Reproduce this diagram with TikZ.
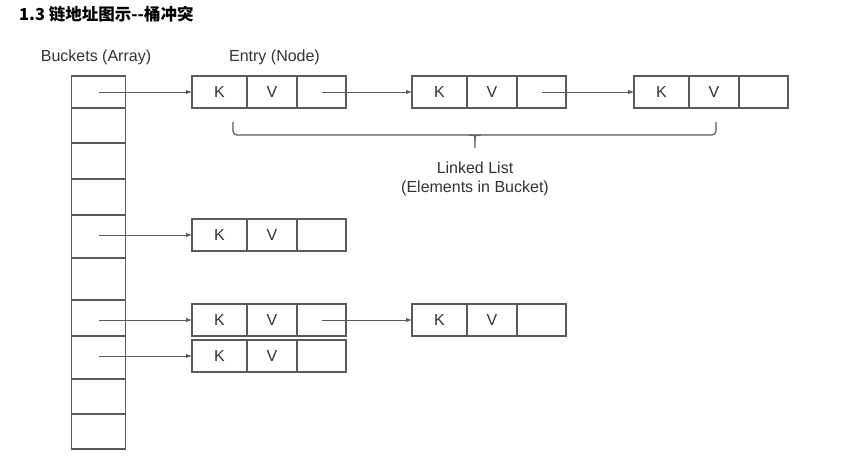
\documentclass[tikz,border=0pt]{standalone}
\usepackage{fontspec}
\setmainfont{Liberation Sans}
\newfontfamily\cjkfont{Noto Sans CJK SC}
\usetikzlibrary{positioning,arrows.meta}
\definecolor{linegray}{HTML}{5A5A5A}
\definecolor{textgray}{HTML}{333333}
\tikzset{
  cell/.style={draw=linegray, line width=1.2pt, minimum height=32pt, inner sep=0pt,
    outer sep=0pt, text=textgray, font=\fontsize{16}{19}\selectfont},
  kcell/.style={cell, minimum width=55pt},
  vcell/.style={cell, minimum width=50pt},
  pcell/.style={cell, minimum width=49pt},
  bucket/.style={draw=linegray, line width=1.2pt, minimum width=54pt, inner sep=0pt, outer sep=0pt},
  link/.style={draw=linegray, line width=1pt, -{Latex[length=6pt,width=4.5pt]}},
  caption/.style={text=textgray, font=\fontsize{16}{18.5}\selectfont, inner sep=0pt},
  brace line/.style={draw=linegray, line width=1.2pt, rounded corners=4pt},
}
% one entry: name, left x, top y
\newcommand{\Entry}[3]{%
  \node[kcell, anchor=north west] (#1k) at (#2,#3) {K};
  \node[vcell, right=0pt of #1k] (#1v) {V};
  \node[pcell, right=0pt of #1v] (#1p) {};
}
\begin{document}
\begin{tikzpicture}[x=1pt,y=-1pt]
\useasboundingbox[fill=white] (0,0) rectangle (849,469);
\node[anchor=west, inner sep=0pt, font=\cjkfont\bfseries\fontsize{16.5}{19}\selectfont] (title) at (19,14) {1.3 链地址图示--桶冲突};
\node[caption] (bucketsLabel) at (96,57) {Buckets (Array)};
\node[caption] (entryLabel) at (274.5,57) {Entry (Node)};
% buckets
\foreach \ya/\yb [count=\i] in {76/108,108/143,143/179,179/215,215/258,258/300,300/336,336/379,379/414,414/449}
  \node[bucket, minimum height={(\yb-\ya)*1pt}] (b\i) at (98.5,{(\ya+\yb)/2}) {};
% entries
\Entry{e1}{192}{76}
\Entry{e2}{412}{76}
\Entry{e3}{634}{76}
\Entry{e4}{192}{219}
\Entry{e5}{192}{304}
\Entry{e6}{412}{304}
\Entry{e7}{192}{340}
% links
\draw[link] (e1k.west -| b1.center) -- (e1k.west);
\draw[link] (e1p.center) -- (e2k.west);
\draw[link] (e2p.center) -- (e3k.west);
\draw[link] (e4k.west -| b5.center) -- (e4k.west);
\draw[link] (e5k.west -| b7.center) -- (e5k.west);
\draw[link] (e5p.center) -- (e6k.west);
\draw[link] (e7k.west -| b8.center) -- (e7k.west);
% brace under the first list
\draw[brace line] (233,122) -- (233,135) -- (716,135) -- (716,122);
\draw[brace line] (469,135) .. controls (475,135) .. (475,141) -- (475,148);
\draw[brace line] (481,135) .. controls (475,135) .. (475,141);
\node[caption, align=center] (listLabel) at (475,179) {Linked List\\(Elements in Bucket)};
\end{tikzpicture}
\end{document}
